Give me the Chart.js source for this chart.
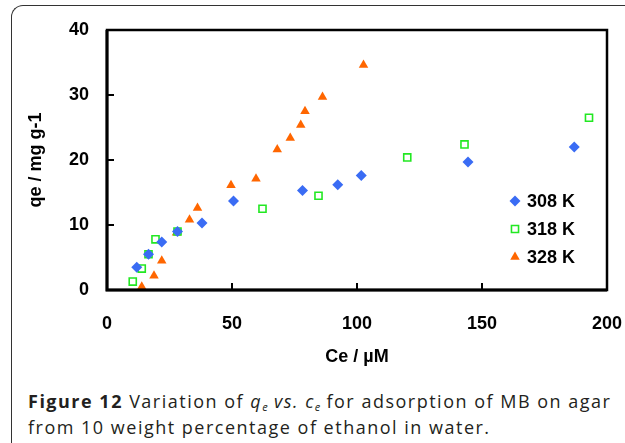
<!DOCTYPE html>
<html>
<head>
<meta charset="utf-8">
<script src="https://cdn.jsdelivr.net/npm/chart.js@4/dist/chart.umd.min.js"></script>
<style>
  html, body { margin: 0; padding: 0; background: #fff; }
  #wrap { position: relative; width: 625px; height: 443px; overflow: hidden; }
  #frame { position: absolute; left: 11px; top: 5px; width: 700px; height: 500px;
           border-left: 1.5px solid #333; border-top: 1.5px solid #333; border-top-left-radius: 12px; }
  #chartBox { position: absolute; left: 0; top: 0; width: 625px; height: 375px; }
  #caption { position: absolute; left: 28px; top: 388px; font-family: "Open Sans", sans-serif;
             font-size: 18px; letter-spacing: 1.5px; line-height: 26px; color: #231f20; white-space: nowrap; }
  #caption b { font-weight: 700; }
  #caption sub { font-size: 11px; vertical-align: -3px; line-height: 0; letter-spacing: 0; }
</style>
</head>
<body>
<div id="wrap">
  <div id="frame"></div>
  <div id="chartBox"><canvas id="chart"></canvas></div>
  <div id="caption"><b>Figure 12</b> Variation of <i>q<sub>e</sub></i> <i>vs. c<sub>e</sub></i> for adsorption of MB on agar<br>from 10 weight percentage of ethanol in water.</div>
</div>
<script>
const seriesLabels = ['308 K', '318 K', '328 K'];

const ce308 = [11.9, 16.6, 21.9, 28.2, 38.0, 50.6, 78.2, 92.3, 101.7, 144.4, 186.9];
const qe308 = [3.5, 5.5, 7.4, 9.0, 10.3, 13.7, 15.3, 16.2, 17.6, 19.7, 22.0];

const ce318 = [10.3, 13.9, 16.6, 19.4, 28.2, 62.2, 84.6, 120.1, 143.0, 192.8];
const qe318 = [1.3, 3.3, 5.5, 7.8, 9.0, 12.5, 14.5, 20.4, 22.4, 26.5];

const ce328 = [13.9, 18.8, 21.9, 27.8, 33.0, 36.2, 49.6, 59.6, 68.1, 73.3, 77.5, 79.2, 86.2, 102.6];
const qe328 = [0.5, 2.2, 4.5, 8.8, 10.8, 12.6, 16.1, 17.1, 21.6, 23.4, 25.4, 27.5, 29.7, 34.6];

const xTicks = [0, 50, 100, 150, 200];
const yTicks = [0, 10, 20, 30, 40];

const toPts = (xs, ys) => xs.map((x, i) => ({ x: x, y: ys[i] }));
const FONT = 'Liberation Sans, Arial, sans-serif';

function marker(ctx, style, x, y, r, fill, stroke, lw) {
  ctx.beginPath();
  if (style === 'rectRot') {
    ctx.moveTo(x - r, y); ctx.lineTo(x, y - r); ctx.lineTo(x + r, y); ctx.lineTo(x, y + r);
  } else if (style === 'rect') {
    const s = r * Math.SQRT1_2;
    ctx.rect(x - s, y - s, 2 * s, 2 * s);
  } else {
    const h = r * Math.sqrt(3) / 2;
    ctx.moveTo(x, y - r); ctx.lineTo(x + h, y + r / 2); ctx.lineTo(x - h, y + r / 2);
  }
  ctx.closePath();
  ctx.fillStyle = fill; ctx.fill();
  if (lw > 0) { ctx.strokeStyle = stroke; ctx.lineWidth = lw; ctx.stroke(); }
}

// box around the plot plus inward tick marks, and the legend inside the plot
const framePlugin = {
  id: 'framePlugin',
  afterDraw(chart) {
    const ctx = chart.ctx, a = chart.chartArea;
    const xs = chart.scales.x, ys = chart.scales.y;
    ctx.save();
    ctx.globalAlpha = 1;
    ctx.setLineDash([]);
    ctx.strokeStyle = '#000';
    ctx.lineWidth = 2;
    xTicks.slice(1, -1).forEach(v => {
      const px = xs.getPixelForValue(v);
      ctx.beginPath(); ctx.moveTo(px, a.bottom); ctx.lineTo(px, a.bottom - 7); ctx.stroke();
    });
    yTicks.slice(1, -1).forEach(v => {
      const py = ys.getPixelForValue(v);
      ctx.beginPath(); ctx.moveTo(a.left, py); ctx.lineTo(a.left + 7, py); ctx.stroke();
    });
    ctx.lineWidth = 2.5;
    ctx.strokeRect(a.left, a.top, a.right - a.left, a.bottom - a.top);
    ctx.lineWidth = 3;
    ctx.beginPath(); ctx.moveTo(a.left, a.top); ctx.lineTo(a.left, a.bottom); ctx.lineTo(a.right, a.bottom); ctx.stroke();

    ctx.font = 'bold 18px ' + FONT;
    ctx.textBaseline = 'middle';
    chart.data.datasets.forEach((ds, i) => {
      const lx = 515, ly = 201 + i * 28;
      marker(ctx, ds.pointStyle, lx, ly, ds.pointRadius, ds.backgroundColor, ds.borderColor, ds.borderWidth);
      ctx.fillStyle = '#000';
      ctx.fillText(ds.label, 527, ly + 1);
    });
    ctx.restore();
  }
};

const datasets = [
  { label: seriesLabels[0], data: toPts(ce308, qe308), pointStyle: 'rectRot', pointRadius: 5.5,
    backgroundColor: '#3a6cf4', borderColor: '#3a6cf4', borderWidth: 0 },
  { label: seriesLabels[1], data: toPts(ce318, qe318), pointStyle: 'rect', pointRadius: 5,
    backgroundColor: '#ffffff', borderColor: '#22e822', borderWidth: 1.6 },
  { label: seriesLabels[2], data: toPts(ce328, qe328), pointStyle: 'triangle', pointRadius: 5.5,
    backgroundColor: '#ff6600', borderColor: '#ff6600', borderWidth: 0 }
];

new Chart(document.getElementById('chart'), {
  type: 'scatter',
  data: { datasets },
  options: {
    responsive: true, maintainAspectRatio: false, animation: false,
    layout: { padding: { top: 30, right: 18, left: 0, bottom: 0 } },
    plugins: { legend: { display: false }, tooltip: { enabled: false } },
    elements: { point: { hoverRadius: 5.5 } },
    scales: {
      x: {
        type: 'linear', min: 0, max: 200,
        afterBuildTicks: s => { s.ticks = xTicks.map(v => ({ value: v })); },
        afterFit: s => { s.height = 85; s.paddingRight = 0; s.paddingLeft = 0; },
        grid: { display: false }, border: { display: false },
        ticks: { color: '#000', padding: 15, font: { family: FONT, size: 18, weight: 'bold' } },
        title: { display: true, text: 'Ce / µM', color: '#000', padding: { top: 0, bottom: 7 },
                 font: { family: FONT, size: 18, weight: 'bold' } }
      },
      y: {
        type: 'linear', min: 0, max: 40,
        afterBuildTicks: s => { s.ticks = yTicks.map(v => ({ value: v })); },
        afterFit: s => { s.width = 107; s.paddingTop = 0; s.paddingBottom = 0; },
        grid: { display: false }, border: { display: false },
        ticks: { color: '#000', padding: 10, font: { family: FONT, size: 18, weight: 'bold' } },
        title: { display: true, text: 'qe / mg g-1', color: '#000', padding: { top: 25, bottom: 0 },
                 font: { family: FONT, size: 18, weight: 'bold' } }
      }
    }
  },
  plugins: [framePlugin]
});
</script>
</body>
</html>
